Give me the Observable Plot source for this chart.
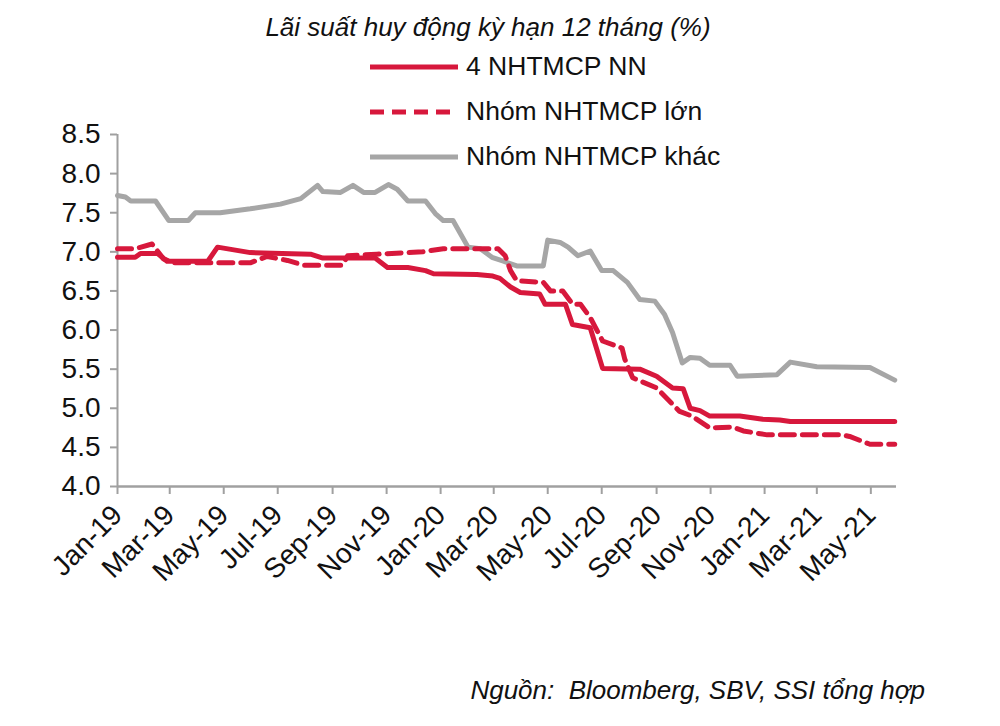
<!DOCTYPE html>
<html>
<head>
<meta charset="utf-8">
<script src="https://cdn.jsdelivr.net/npm/d3@7"></script>
<script src="https://cdn.jsdelivr.net/npm/@observablehq/plot@0.6"></script>
<style>
  html, body { margin: 0; padding: 0; background: #fff; }
  #wrap { position: relative; width: 1000px; height: 726px; overflow: hidden; font-family: "Liberation Sans", Arial, sans-serif; color: #111; }
  #chart { position: absolute; left: 0; top: 0; }
  #title { position: absolute; left: 0; width: 976px; top: 12px; text-align: center; font-style: italic; font-size: 26px; line-height: 30px; }
  #legend { position: absolute; left: 370px; top: 44px; }
  .row { display: flex; align-items: center; height: 45px; font-size: 26.5px; }
  .row svg { margin-right: 8px; }
  #source { position: absolute; right: 75px; top: 674px; font-style: italic; font-size: 26px; line-height: 32px; white-space: pre; }
</style>
</head>
<body>
<div id="wrap">
  <div id="chart"></div>
  <div id="title"></div>
  <div id="legend"></div>
  <div id="source"></div>
</div>
<script>
// ---- Data ----
const titleText = "Lãi suất huy động kỳ hạn 12 tháng (%)";
const sourceText = "Nguồn:  Bloomberg, SBV, SSI tổng hợp";
const seriesNames = ["4 NHTMCP NN", "Nhóm NHTMCP lớn", "Nhóm NHTMCP khác"];
const yTickValues = [4.0, 4.5, 5.0, 5.5, 6.0, 6.5, 7.0, 7.5, 8.0, 8.5];
const xTickLabels = ["Jan-19","Mar-19","May-19","Jul-19","Sep-19","Nov-19","Jan-20","Mar-20","May-20","Jul-20","Sep-20","Nov-20","Jan-21","Mar-21","May-21"];
const xDomain = ["2019-01-01", "2021-05-30"];

// 4 NHTMCP NN (solid red)
const nnDates = ["2019-01-01","2019-01-21","2019-01-27","2019-02-15","2019-02-26","2019-04-13","2019-04-24","2019-05-31","2019-08-07","2019-08-21","2019-10-19","2019-11-02","2019-11-25","2019-12-15","2019-12-24","2020-02-11","2020-02-29","2020-03-08","2020-03-20","2020-03-31","2020-04-22","2020-04-28","2020-05-21","2020-05-29","2020-06-18","2020-07-02","2020-08-13","2020-09-01","2020-09-19","2020-10-01","2020-10-09","2020-10-20","2020-10-31","2020-12-04","2020-12-30","2021-01-18","2021-01-30","2021-05-28"];
const nnValues = [6.93,6.93,6.98,6.98,6.88,6.88,7.06,6.99,6.97,6.92,6.92,6.80,6.80,6.76,6.72,6.71,6.69,6.66,6.55,6.48,6.46,6.33,6.33,6.07,6.03,5.51,5.50,5.41,5.26,5.25,5.00,4.97,4.90,4.90,4.86,4.85,4.83,4.83];

// Nhóm NHTMCP lớn (dashed red)
const lonDates = ["2019-01-01","2019-01-21","2019-02-09","2019-02-22","2019-03-05","2019-05-31","2019-06-19","2019-07-12","2019-07-30","2019-09-12","2019-09-18","2019-10-21","2019-12-12","2020-01-04","2020-03-06","2020-03-14","2020-03-20","2020-03-27","2020-04-26","2020-05-04","2020-05-18","2020-05-29","2020-06-07","2020-06-18","2020-07-02","2020-07-24","2020-07-27","2020-08-05","2020-09-01","2020-09-27","2020-10-11","2020-10-31","2020-11-26","2020-12-08","2021-01-04","2021-03-30","2021-04-07","2021-04-30","2021-05-28"];
const lonValues = [7.04,7.04,7.10,6.91,6.86,6.86,6.94,6.89,6.83,6.83,6.95,6.97,7.00,7.04,7.04,6.95,6.76,6.63,6.61,6.50,6.50,6.33,6.33,6.16,5.86,5.77,5.63,5.39,5.26,4.96,4.90,4.75,4.76,4.71,4.66,4.66,4.64,4.54,4.54];

// Nhóm NHTMCP khác (gray)
const khacDates = ["2019-01-01","2019-01-10","2019-01-16","2019-02-13","2019-02-28","2019-03-22","2019-03-30","2019-04-27","2019-05-31","2019-07-04","2019-07-27","2019-08-15","2019-08-21","2019-09-10","2019-09-24","2019-10-06","2019-10-19","2019-11-03","2019-11-13","2019-11-25","2019-12-15","2019-12-26","2020-01-04","2020-01-15","2020-02-01","2020-02-15","2020-02-28","2020-03-12","2020-03-27","2020-04-26","2020-05-01","2020-05-15","2020-05-24","2020-06-04","2020-06-18","2020-07-01","2020-07-14","2020-07-30","2020-08-13","2020-08-30","2020-09-10","2020-09-19","2020-09-30","2020-10-09","2020-10-20","2020-10-31","2020-11-23","2020-12-01","2021-01-15","2021-01-30","2021-03-01","2021-04-30","2021-05-28"];
const khacValues = [7.72,7.70,7.65,7.65,7.40,7.40,7.50,7.50,7.55,7.61,7.68,7.85,7.77,7.76,7.85,7.76,7.76,7.86,7.80,7.65,7.65,7.49,7.40,7.40,7.06,7.04,6.93,6.88,6.82,6.82,7.15,7.12,7.06,6.95,7.01,6.76,6.76,6.61,6.39,6.37,6.20,5.97,5.58,5.65,5.64,5.55,5.55,5.41,5.43,5.59,5.53,5.52,5.36];

// ---- Styles ----
const RED = "#d7183c";
const GRAY = "#a6a6a6";
const AXIS = "#a0a0a0";
const DASH = "14,8";
const FONT = '"Liberation Sans", Arial, sans-serif';

const toRows = (dates, values) => dates.map((d, i) => ({date: new Date(d), value: values[i]}));
const nn = toRows(nnDates, nnValues);
const lon = toRows(lonDates, lonValues);
const khac = toRows(khacDates, khacValues);

const xTicks = xTickLabels.map(s => d3.utcParse("%b-%y")(s));
const fmt = d3.utcFormat("%b-%y");

const chart = Plot.plot({
  width: 1000,
  height: 726,
  marginTop: 134,
  marginBottom: 240,
  marginLeft: 117,
  marginRight: 104,
  style: {fontFamily: FONT, fontSize: "28px", color: "#111", background: "transparent", overflow: "visible"},
  x: {type: "utc", domain: xDomain.map(d => new Date(d))},
  y: {domain: [4, 8.5]},
  marks: [
    Plot.axisY({ticks: yTickValues, tickFormat: d => d.toFixed(1), tickSize: 7, tickPadding: 10, stroke: AXIS, strokeWidth: 2, fill: "#111", label: null}),
    Plot.axisX({ticks: xTicks, tickFormat: fmt, tickSize: 8, tickPadding: 16, tickRotate: -45, stroke: AXIS, strokeWidth: 2, fill: "#111", label: null}),
    Plot.ruleX([new Date(xDomain[0])], {stroke: AXIS, strokeWidth: 2}),
    Plot.ruleY([4], {stroke: AXIS, strokeWidth: 2.5}),
    Plot.line(khac, {x: "date", y: "value", stroke: GRAY, strokeWidth: 5}),
    Plot.line(nn, {x: "date", y: "value", stroke: RED, strokeWidth: 5}),
    Plot.line(lon, {x: "date", y: "value", stroke: RED, strokeWidth: 5, strokeDasharray: DASH})
  ]
});
document.getElementById("chart").appendChild(chart);

document.getElementById("title").textContent = titleText;
document.getElementById("source").textContent = sourceText;

const legendStyles = [
  {stroke: RED, dash: null},
  {stroke: RED, dash: DASH},
  {stroke: GRAY, dash: null}
];
const legend = document.getElementById("legend");
seriesNames.forEach((name, i) => {
  const row = document.createElement("div");
  row.className = "row";
  const s = legendStyles[i];
  row.innerHTML = `<svg width="88" height="10"><line x1="0" y1="5" x2="88" y2="5" stroke="${s.stroke}" stroke-width="5" ${s.dash ? `stroke-dasharray="${s.dash}"` : ""}/></svg><span>${name}</span>`;
  legend.appendChild(row);
});
</script>
</body>
</html>
